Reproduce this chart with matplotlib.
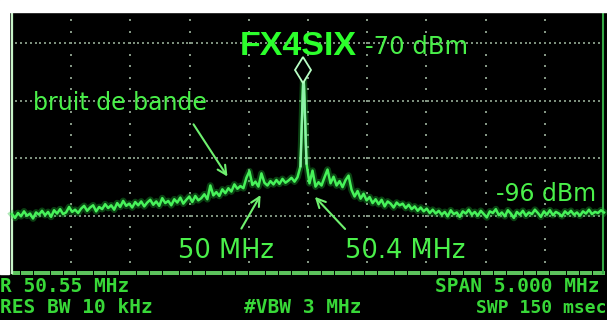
import numpy as np
import matplotlib
matplotlib.use("Agg")
import matplotlib.pyplot as plt
from matplotlib.patches import Rectangle

W, H = 607, 320
DPI = 100

# analyzer settings
CENTER_MHZ = 50.55
SPAN_MHZ = 5.0
RBW = "10 kHz"
VBW = "3 MHz"
SWEEP = "150 msec"

# measured trace, dBm per sweep point (left to right)
trace_dbm = [
    -96.2, -96.9, -96.0, -96.6, -95.7, -96.5, -96.1, -97.0, -95.9, -96.3, -95.6,
    -96.4, -95.8, -96.7, -95.5, -96.1, -95.3, -96.2, -95.9, -94.9, -95.8, -95.4,
    -96.0, -95.2, -94.7, -95.6, -95.0, -94.6, -95.7, -94.9, -95.3, -94.4, -95.1,
    -94.6, -95.4, -94.2, -94.9, -93.8, -94.7, -94.3, -95.0, -94.0, -94.6, -93.9,
    -94.8, -94.1, -93.6, -94.5, -93.9, -94.7, -93.3, -94.2, -93.8, -94.6, -93.5,
    -94.1, -93.2, -94.3, -93.6, -93.0, -94.0, -92.9, -93.7, -93.3, -92.6, -93.5,
    -91.0, -92.8, -92.2, -92.9, -91.7, -92.4, -91.5, -92.1, -90.8, -91.6, -91.1,
    -91.5, -89.6, -88.4, -90.9, -90.3, -91.2, -88.8, -90.5, -91.0, -90.2, -90.8,
    -90.0, -90.7, -89.8, -90.5, -90.1, -89.6, -90.3, -89.5, -87.5,
    -70.0,
    -87.0, -90.6, -88.3, -91.2, -90.4, -91.0, -89.5, -88.1, -90.6, -89.4, -91.0,
    -90.2, -91.3, -90.0, -89.2, -91.8, -93.0, -92.0, -93.4, -92.5, -93.7, -93.1,
    -94.2, -93.5, -94.4, -93.6, -94.8, -93.9, -94.3, -95.0, -94.1, -94.6, -94.3,
    -95.1, -94.5, -95.3, -94.8, -95.6, -95.0, -95.7, -95.2, -96.0, -95.4, -96.1,
    -95.6, -96.3, -95.8, -96.6, -95.5, -96.2, -95.9, -96.7, -95.7, -96.1, -95.4,
    -96.3, -95.8, -96.5, -95.6, -96.2, -96.8, -95.7, -96.0, -95.3, -96.4, -95.9,
    -96.6, -95.5, -96.1, -96.9, -95.8, -96.3, -95.6, -96.5, -95.9, -96.2, -95.4,
    -96.0, -96.7, -95.7, -96.3, -95.5, -96.4, -95.8, -96.1, -96.6, -95.7, -96.2,
    -95.6, -96.3, -95.9, -96.5, -95.7, -96.1, -95.4, -96.2, -95.8, -96.0, -95.5, -95.9,
]

marker_dbm = -70.0
floor_dbm = -96.0
band_lo_mhz = 50.0
band_hi_mhz = 50.4

# screen geometry in pixels
GX0, GX1 = 12, 604        # graticule left / right
GY_BOT = 273              # graticule bottom
DIV_X = (GX1 - GX0) / 10
DIV_Y = 57.5
PX_PER_DB = 5.5
REF_PY = 70               # pixel row of the marker level

f_start = CENTER_MHZ - SPAN_MHZ / 2
f_stop = CENTER_MHZ + SPAN_MHZ / 2
mhz_per_px = SPAN_MHZ / (GX1 - GX0)
freq = np.linspace(f_start, f_stop, len(trace_dbm))
peak = int(np.argmax(trace_dbm))

fig = plt.figure(figsize=(W / DPI, H / DPI), dpi=DPI, facecolor="black")

# pixel-space layer for the screen furniture
scr = fig.add_axes([0, 0, 1, 1])
scr.set_xlim(0, W)
scr.set_ylim(H, 0)
scr.set_facecolor("black")
scr.axis("off")

# data layer: MHz / dBm
ax = fig.add_axes([0, 0, 1, 1])
ax.set_xlim(f_start - GX0 * mhz_per_px, f_start + (W - GX0) * mhz_per_px)
ax.set_ylim(marker_dbm - (H - REF_PY) / PX_PER_DB, marker_dbm + REF_PY / PX_PER_DB)
ax.patch.set_alpha(0)
ax.axis("off")

# graticule
dot_ys = np.arange(GY_BOT - DIV_Y / 5, 10, -DIV_Y / 5)
for i in range(1, 10):
    x = GX0 + DIV_X * i
    scr.plot(np.full_like(dot_ys, x), dot_ys, "s", ms=1.8, color="#849684", mew=0)
dot_xs = np.arange(GX0 + 4, GX1, 4.9)
for k in range(1, 5):
    y = GY_BOT - DIV_Y * k
    scr.plot(dot_xs, np.full_like(dot_xs, y), "s", ms=1.7, color="#7d8f7d", mew=0)
bot_xs = np.arange(GX0 + 2, GX1, 4.3)
scr.plot(bot_xs, np.full_like(bot_xs, GY_BOT), "s", ms=2.6, color="#5cc25c", mew=0)
scr.plot([GX0, GX0], [12, GY_BOT], color="#c6f2c6", lw=1.6)
scr.plot([GX1 - 1, GX1 - 1], [12, GY_BOT], color="#35a845", lw=1.5)

# white paper edges around the screen photo
scr.add_patch(Rectangle((0, 0), W, 12, color="white", zorder=5))
scr.add_patch(Rectangle((0, 0), 8.5, GY_BOT + 1, color="white", zorder=5))

# trace with a bit of phosphor glow
ax.plot(freq, trace_dbm, color="#1fbf35", lw=4.8, alpha=0.35, solid_joinstyle="round")
ax.plot(freq, trace_dbm, color="#47f25a", lw=1.8, solid_joinstyle="round")
ax.plot(freq[peak - 1:peak + 2], trace_dbm[peak - 1:peak + 2], color="#8ff0a8", lw=1.6)
ax.plot(freq[peak], trace_dbm[peak], marker="d", ms=13, mfc="black", mec="#b8ffc4", mew=1.3)

# labels
txt = dict(color="#4af04a", va="baseline", family="DejaVu Sans")
scr.text(240, 55, "FX4SIX", color="#2cff2c", va="baseline", family="Liberation Sans",
         fontweight="bold", fontsize=24.5)
scr.text(365, 54, f"{marker_dbm:.0f} dBm", fontsize=17.5, **txt)
scr.text(33, 110, "bruit de bande", fontsize=17, **txt)
scr.text(496, 201, f"{floor_dbm:.0f} dBm", fontsize=17, **txt)
scr.text(178, 258, f"{band_lo_mhz:g} MHz", fontsize=18.5, **txt)
scr.text(345, 258, f"{band_hi_mhz:g} MHz", fontsize=18.5, **txt)

arrow = dict(arrowstyle="->", color="#6ff06f", lw=1.5, mutation_scale=16)
ax.annotate("", xy=(f_start + (229 - GX0) * mhz_per_px, -89.8),
            xytext=(192, 122), textcoords=scr.transData, arrowprops=arrow)
ax.annotate("", xy=(f_start + (262 - GX0) * mhz_per_px, -92.3),
            xytext=(240, 231), textcoords=scr.transData, arrowprops=arrow)
ax.annotate("", xy=(f_start + (313 - GX0) * mhz_per_px, -92.7),
            xytext=(347, 231), textcoords=scr.transData, arrowprops=arrow)

# instrument readouts along the bottom edge
mono = dict(color="#38d838", va="baseline", family="DejaVu Sans Mono",
            fontweight="bold", fontsize=14)
scr.text(0.5, 292, f"R {CENTER_MHZ:.2f} MHz", **mono)
scr.text(0.5, 313, f"RES BW {RBW}", **mono)
scr.text(244, 313, f"#VBW {VBW}", **mono)
scr.text(435, 292, f"SPAN {SPAN_MHZ:.3f} MHz", **mono)
scr.text(606, 313, f"SWP {SWEEP}", ha="right", **{**mono, "fontsize": 13})

fig.savefig("out.png", dpi=DPI, facecolor="black")
